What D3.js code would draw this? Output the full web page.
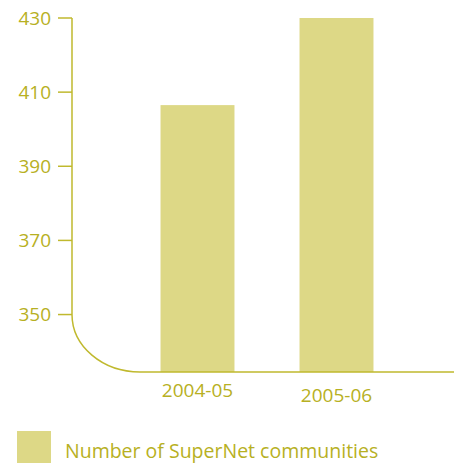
<!DOCTYPE html>
<html>
<head>
<meta charset="utf-8">
<script src="https://cdn.jsdelivr.net/npm/d3@7"></script>
<style>
  body { margin: 0; background: #fff; }
  text { font-family: "Open Sans", sans-serif; fill: #b7b023; }
</style>
</head>
<body>
<div id="chart"></div>
<script>
const years = ["2004-05", "2005-06"];
const communities = [406.5, 430];
const yTicks = [350, 370, 390, 410, 430];
const seriesName = "Number of SuperNet communities";

const axisColor = "#c0b92e";
const barColor = "#ddd886";

const svg = d3.select("#chart").append("svg")
    .attr("width", 454)
    .attr("height", 463);

const y = d3.scaleLinear().domain([334.5, 430]).range([372, 18]);
const x = d3.scaleBand().domain(years).range([128, 406])
    .paddingInner(0.468).paddingOuter(0.234);

const axisX = 72;
const baseY = y.range()[0];

// bars
svg.selectAll(".bar")
    .data(years)
    .enter()
    .append("rect")
    .attr("x", d => x(d))
    .attr("y", (d, i) => y(communities[i]))
    .attr("width", x.bandwidth())
    .attr("height", (d, i) => baseY - y(communities[i]))
    .attr("fill", barColor);

// axis with rounded corner
const y350 = y(350);
svg.append("path")
    .attr("d", `M${axisX},${y(430)} L${axisX},${y350} A68,${baseY - y350} 0 0 0 140,${baseY} L454,${baseY}`)
    .attr("fill", "none")
    .attr("stroke", axisColor)
    .attr("stroke-width", 1.5);

svg.selectAll(".tick")
    .data(yTicks)
    .enter()
    .append("line")
    .attr("x1", 58).attr("x2", axisX)
    .attr("y1", d => y(d)).attr("y2", d => y(d))
    .attr("stroke", axisColor)
    .attr("stroke-width", 1.5);

svg.selectAll(".ytl")
    .data(yTicks)
    .enter()
    .append("text")
    .attr("x", 51)
    .attr("y", d => y(d))
    .attr("dy", "0.36em")
    .attr("text-anchor", "end")
    .style("font-size", "19px")
    .text(d => d);

// category labels (second one sits a bit lower in the original)
svg.selectAll(".xtl")
    .data(years)
    .enter()
    .append("text")
    .attr("x", d => x(d) + x.bandwidth() / 2)
    .attr("y", (d, i) => i === 0 ? 397 : 402)
    .attr("text-anchor", "middle")
    .style("font-size", "19px")
    .text(d => d);

// legend
svg.append("rect")
    .attr("x", 17).attr("y", 431)
    .attr("width", 34).attr("height", 32)
    .attr("fill", barColor);
svg.append("text")
    .attr("x", 65).attr("y", 458)
    .style("font-size", "19.5px")
    .text(seriesName);
</script>
</body>
</html>
